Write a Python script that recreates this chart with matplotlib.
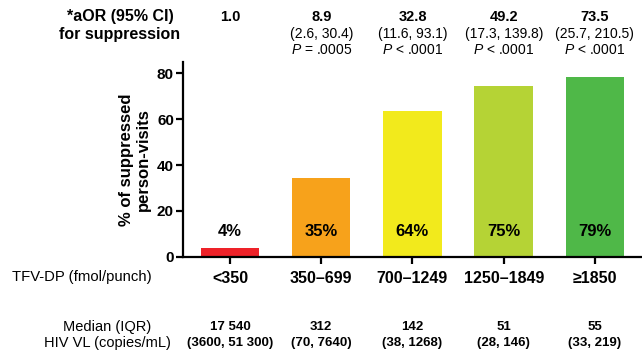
import matplotlib

matplotlib.use("Agg")

import matplotlib.pyplot as plt
import matplotlib.transforms as mtransforms

plt.rcParams["font.family"] = ["Liberation Sans", "DejaVu Sans"]
plt.rcParams["mathtext.fontset"] = "custom"
plt.rcParams["mathtext.it"] = "Liberation Sans:italic"
plt.rcParams["mathtext.rm"] = "Liberation Sans"

categories = ["<350", "350\u2013699", "700\u20131249", "1250\u20131849", "\u22651850"]
suppressed_pct = [3.7, 34.3, 63.4, 74.6, 78.4]
pct_labels = ["4%", "35%", "64%", "75%", "79%"]
bar_colors = ["#EE2229", "#F7A21B", "#F2EA1C", "#B5D335", "#4FB848"]

aor_values = ["1.0", "8.9", "32.8", "49.2", "73.5"]
aor_ci = ["", "(2.6, 30.4)", "(11.6, 93.1)", "(17.3, 139.8)", "(25.7, 210.5)"]
aor_p = ["", "= .0005", "< .0001", "< .0001", "< .0001"]

vl_median = ["17 540", "312", "142", "51", "55"]
vl_iqr = ["(3600, 51 300)", "(70, 7640)", "(38, 1268)", "(28, 146)", "(33, 219)"]

fig = plt.figure(figsize=(6.42, 3.54), dpi=100)
ax = fig.add_axes([183 / 642, 1 - 256.7 / 354, 458 / 642, 194.7 / 354])

x = list(range(len(categories)))
ax.bar(x, suppressed_pct, width=0.64, color=bar_colors)
ax.set_xlim(-0.515, 4.505)
ax.set_ylim(0, 85)
ax.set_yticks([0, 20, 40, 60, 80])
ax.set_xticks(x)
ax.set_xticklabels(categories, fontsize=11.5, fontweight="bold")
for lbl in ax.get_yticklabels():
    lbl.set_fontsize(11)
    lbl.set_fontweight("bold")
ax.spines["top"].set_visible(False)
ax.spines["right"].set_visible(False)
ax.spines["left"].set_linewidth(1.6)
ax.spines["bottom"].set_linewidth(1.6)
ax.tick_params(axis="both", direction="out", length=5, width=1.6, pad=1.5)
ax.tick_params(axis="x", pad=5)
ax.set_ylabel("% of suppressed\nperson-visits", fontsize=12, fontweight="bold",
              linespacing=1.2, labelpad=4)

for xi, lab in zip(x, pct_labels):
    ax.text(xi, 11, lab, ha="center", va="center", fontsize=12, fontweight="bold")

blend = mtransforms.blended_transform_factory(ax.transData, fig.transFigure)


def fy(px):
    return 1 - px / 354


fig.text(120 / 642, fy(17), "*aOR (95% CI)", ha="center", va="center",
         fontsize=11.5, fontweight="bold")
fig.text(120 / 642, fy(35), "for suppression", ha="center", va="center",
         fontsize=11.5, fontweight="bold")
fig.text(82 / 642, fy(277), "TFV-DP (fmol/punch)", ha="center", va="center",
         fontsize=10.7)
fig.text(107 / 642, fy(327), "Median (IQR)", ha="center", va="center",
         fontsize=10.5)
fig.text(107 / 642, fy(343), "HIV VL (copies/mL)", ha="center", va="center",
         fontsize=10.5)

for xi in x:
    ax.text(xi, fy(17), aor_values[xi], transform=blend, ha="center", va="center",
            fontsize=10.5, fontweight="bold")
    if aor_ci[xi]:
        ax.text(xi, fy(34), aor_ci[xi], transform=blend, ha="center", va="center",
                fontsize=10)
        ax.text(xi, fy(50), r"$P$ " + aor_p[xi], transform=blend, ha="center",
                va="center", fontsize=10)
    ax.text(xi, fy(327), vl_median[xi], transform=blend, ha="center", va="center",
            fontsize=9.5, fontweight="bold")
    ax.text(xi, fy(343), vl_iqr[xi], transform=blend, ha="center", va="center",
            fontsize=9.5, fontweight="bold")

fig.savefig("out.png", dpi=100)
plt.close(fig)
